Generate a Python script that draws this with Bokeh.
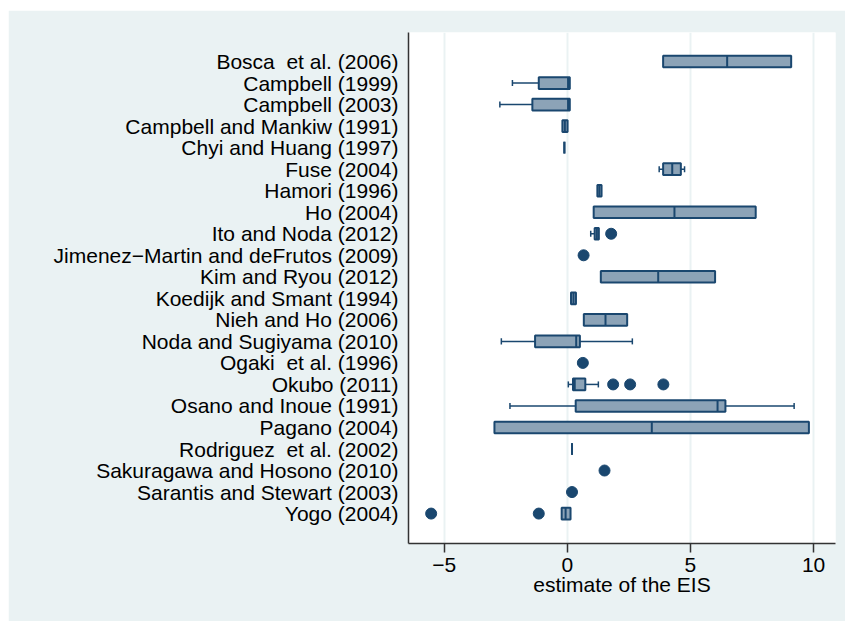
from bokeh.plotting import figure
from bokeh.models import Range1d, FixedTicker, ColumnDataSource, Spacer
from bokeh.layouts import column, row
from bokeh.embed import file_html
from bokeh.resources import INLINE

# ---- data ----
NB = "\u00a0"
studies = [
    "Bosca" + NB + " et al. (2006)", "Campbell (1999)", "Campbell (2003)",
    "Campbell and Mankiw (1991)", "Chyi and Huang (1997)", "Fuse (2004)",
    "Hamori (1996)", "Ho (2004)", "Ito and Noda (2012)",
    "Jimenez\u2212Martin and deFrutos (2009)", "Kim and Ryou (2012)",
    "Koedijk and Smant (1994)", "Nieh and Ho (2006)",
    "Noda and Sugiyama (2010)", "Ogaki" + NB + " et al. (1996)", "Okubo (2011)",
    "Osano and Inoue (1991)", "Pagano (2004)", "Rodriguez" + NB + " et al. (2002)",
    "Sakuragawa and Hosono (2010)", "Sarantis and Stewart (2003)", "Yogo (2004)",
]

box_study = [
    "Bosca" + NB + " et al. (2006)", "Campbell (1999)", "Campbell (2003)",
    "Campbell and Mankiw (1991)", "Chyi and Huang (1997)", "Fuse (2004)",
    "Hamori (1996)", "Ho (2004)", "Ito and Noda (2012)", "Kim and Ryou (2012)",
    "Koedijk and Smant (1994)", "Nieh and Ho (2006)", "Noda and Sugiyama (2010)",
    "Okubo (2011)", "Osano and Inoue (1991)", "Pagano (2004)",
    "Rodriguez" + NB + " et al. (2002)", "Yogo (2004)",
]
box_q1 = [3.89, -1.16, -1.42, -0.20, -0.12, 3.89, 1.22, 1.07, 1.11, 1.36,
          0.15, 0.67, -1.31, 0.23, 0.34, -2.96, 0.19, -0.23]
box_med = [6.49, 0.03, 0.03, -0.10, -0.12, 4.26, 1.30, 4.35, 1.20, 3.69,
           0.25, 1.55, 0.36, 0.30, 6.10, 3.43, 0.19, -0.07]
box_q3 = [9.09, 0.10, 0.10, 0.01, -0.12, 4.61, 1.39, 7.65, 1.28, 6.00,
          0.35, 2.43, 0.51, 0.73, 6.42, 9.81, 0.19, 0.13]
whisk_lo = [3.89, -2.23, -2.74, -0.20, -0.12, 3.73, 1.22, 1.07, 0.95, 1.36,
            0.15, 0.67, -2.68, 0.04, -2.33, -2.96, 0.19, -0.23]
whisk_hi = [9.09, 0.10, 0.10, 0.01, -0.12, 4.76, 1.39, 7.65, 1.28, 6.00,
            0.35, 2.43, 2.64, 1.26, 9.21, 9.81, 0.19, 0.13]

out_study = [
    "Ito and Noda (2012)", "Jimenez\u2212Martin and deFrutos (2009)",
    "Ogaki" + NB + " et al. (1996)", "Okubo (2011)", "Okubo (2011)", "Okubo (2011)",
    "Sakuragawa and Hosono (2010)", "Sarantis and Stewart (2003)",
    "Yogo (2004)", "Yogo (2004)",
]
out_value = [1.78, 0.66, 0.63, 1.86, 2.55, 3.90, 1.51, 0.19, -5.53, -1.16]

x_ticks = [-5, 0, 5, 10]
x_tick_labels = ["\u22125", "0", "5", "10"]
x_title = "estimate of the EIS"

# ---- styles ----
NAVY = "#1a476f"
BOXFILL = "#8ca3b7"
BG = "#eaf2f3"
FONT = "Liberation Sans"

n = len(studies)
pos = {s: n - 1 - i for i, s in enumerate(studies)}

p = figure(width=837, height=611, output_backend="svg", toolbar_location=None,
           x_range=Range1d(-6.45, 10.89), y_range=Range1d(-1.39, 22.35),
           min_border_left=400, min_border_right=10, min_border_top=22,
           min_border_bottom=78)
p.border_fill_color = BG
p.background_fill_color = "white"
p.outline_line_color = None

by = [pos[s] for s in box_study]
BH = 0.54
CAP = 0.14

# whiskers
has_lo = [i for i in range(len(box_study)) if whisk_lo[i] < box_q1[i]]
has_hi = [i for i in range(len(box_study)) if whisk_hi[i] > box_q3[i]]
p.segment(x0=[whisk_lo[i] for i in has_lo], x1=[box_q1[i] for i in has_lo],
          y0=[by[i] for i in has_lo], y1=[by[i] for i in has_lo],
          line_color=NAVY, line_width=1.5)
p.segment(x0=[whisk_lo[i] for i in has_lo], x1=[whisk_lo[i] for i in has_lo],
          y0=[by[i] - CAP for i in has_lo], y1=[by[i] + CAP for i in has_lo],
          line_color=NAVY, line_width=1.5)
p.segment(x0=[box_q3[i] for i in has_hi], x1=[whisk_hi[i] for i in has_hi],
          y0=[by[i] for i in has_hi], y1=[by[i] for i in has_hi],
          line_color=NAVY, line_width=1.5)
p.segment(x0=[whisk_hi[i] for i in has_hi], x1=[whisk_hi[i] for i in has_hi],
          y0=[by[i] - CAP for i in has_hi], y1=[by[i] + CAP for i in has_hi],
          line_color=NAVY, line_width=1.5)

# boxes
src = ColumnDataSource(dict(y=by, left=box_q1, right=box_q3, med=box_med))
p.hbar(y="y", left="left", right="right", height=BH, source=src,
       fill_color=BOXFILL, line_color=NAVY, line_width=2)
p.segment(x0=box_med, x1=box_med, y0=[v - BH / 2 for v in by],
          y1=[v + BH / 2 for v in by], line_color=NAVY, line_width=2)

# outside values
p.scatter(x=out_value, y=[pos[s] for s in out_study], size=11,
          fill_color=NAVY, line_color=NAVY)

# axes
p.xaxis.ticker = FixedTicker(ticks=x_ticks)
p.xaxis.major_label_overrides = dict(zip(x_ticks, x_tick_labels))
p.xaxis.axis_label = x_title
p.xaxis.minor_tick_line_color = None
p.xaxis.major_tick_out = 9
p.xaxis.major_tick_in = 0

ypos = [pos[s] for s in studies]
p.yaxis.ticker = FixedTicker(ticks=ypos)
p.yaxis.major_label_overrides = {pos[s]: s for s in studies}
p.yaxis.minor_tick_line_color = None
p.yaxis.major_tick_out = 0
p.yaxis.major_tick_in = 0
p.yaxis.minor_tick_out = 0
p.yaxis.major_label_standoff = 10

for ax in (p.xaxis, p.yaxis):
    ax.axis_line_color = "#333333"
    ax.axis_line_width = 1.5
    ax.major_tick_line_width = 1.5
    ax.major_label_text_font = FONT
    ax.major_label_text_font_size = "21px"
    ax.major_label_text_color = "black"
    ax.axis_label_text_font = FONT
    ax.axis_label_text_font_size = "21px"
    ax.axis_label_text_font_style = "normal"
    ax.axis_label_text_color = "black"
p.xaxis.major_tick_line_color = "#333333"
p.yaxis.major_tick_line_color = None
p.xaxis.axis_label_standoff = -2

p.xgrid.ticker = FixedTicker(ticks=x_ticks)
p.xgrid.grid_line_color = BG
p.xgrid.grid_line_width = 2
p.ygrid.grid_line_color = None

layout = column(Spacer(width=845, height=10),
                row(Spacer(width=8, height=611), p))

open("out.html", "w").write(file_html(layout, INLINE))
